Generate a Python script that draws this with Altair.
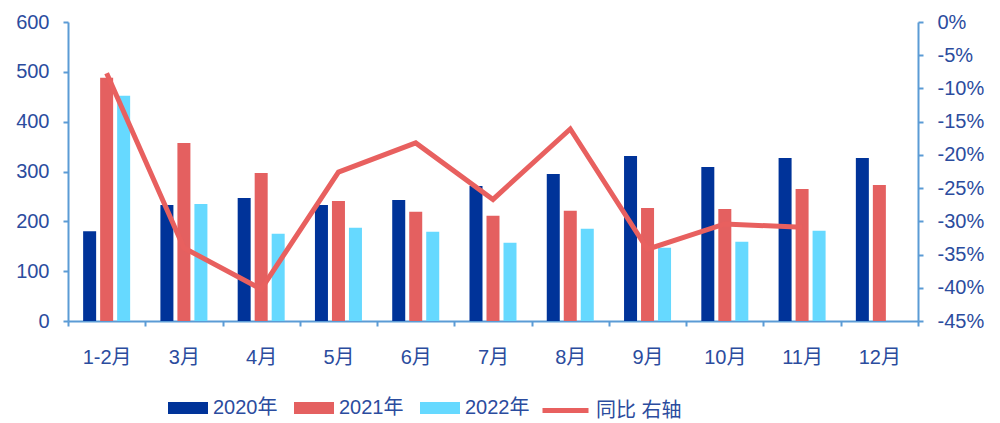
import altair as alt
import pandas as pd

months = ["1-2月", "3月", "4月", "5月", "6月", "7月", "8月", "9月", "10月", "11月", "12月"]
series = ["2020年", "2021年", "2022年"]
v2020 = [180, 233, 247, 233, 243, 271, 295, 331, 309, 327, 327]
v2021 = [488, 357, 297, 241, 219, 211, 221, 227, 225, 265, 273]
v2022 = [452, 235, 175, 187, 179, 157, 185, 147, 159, 181, None]
yoy = [-7.7, -34.0, -40.2, -22.6, -18.2, -26.7, -16.1, -34.2, -30.4, -30.9, None]
line_label = "同比 右轴"

bar_colors = ["#003399", "#E46060", "#66D9FF"]
line_color = "#E8605F"
text_color = "#2B4C9E"
axis_color = "#5B9BD5"
font = "Liberation Sans, 'Noto Sans CJK SC'"

rows = []
for i, m in enumerate(months):
    for s, vals in zip(series, [v2020, v2021, v2022]):
        if vals[i] is not None:
            rows.append({"month": m, "series": s, "value": vals[i]})
bars_df = pd.DataFrame(rows)
line_df = pd.DataFrame({"month": months, "yoy": yoy, "label": [line_label] * len(months)})
line_df = line_df.dropna()

x_enc = alt.X(
    "month:N", sort=months,
    scale=alt.Scale(paddingInner=0, paddingOuter=0),
    axis=alt.Axis(title=None, tickBand="extent", labelAngle=0, labelPadding=21,
                  labelFontSize=20),
)

bars = alt.Chart(bars_df).mark_bar().encode(
    x=x_enc,
    xOffset=alt.XOffset("series:N", sort=series,
                        scale=alt.Scale(paddingInner=0.235, paddingOuter=0.89)),
    y=alt.Y("value:Q", scale=alt.Scale(domain=[0, 600]),
            axis=alt.Axis(title=None, values=[0, 100, 200, 300, 400, 500, 600],
                          labelPadding=14)),
    color=alt.Color("series:N", sort=series,
                    scale=alt.Scale(domain=series, range=bar_colors),
                    legend=alt.Legend(title=None, orient="none", legendX=100, legendY=366,
                                      direction="horizontal",
                                      symbolType="M-1,-0.3H1V0.3H-1Z", symbolSize=1600,
                                      labelOffset=5, columnPadding=16,
                                      labelFontSize=20, labelColor=text_color,
                                      labelFont=font, symbolStrokeWidth=0)),
)

line = alt.Chart(line_df).mark_line(strokeWidth=5).encode(
    x=alt.X("month:N", sort=months),
    y=alt.Y("yoy:Q", scale=alt.Scale(domain=[-45, 0]),
            axis=alt.Axis(title=None, orient="right",
                          values=[0, -5, -10, -15, -20, -25, -30, -35, -40, -45],
                          labelExpr="datum.value + '%'", labelPadding=14)),
    stroke=alt.Stroke("label:N", scale=alt.Scale(domain=[line_label], range=[line_color]),
                      legend=alt.Legend(title=None, orient="none", legendX=472, legendY=363,
                                        symbolType="stroke", symbolSize=2116,
                                        symbolStrokeWidth=5, labelOffset=5,
                                        labelFontSize=20, labelColor=text_color,
                                        labelFont=font)),
)

chart = alt.layer(bars, line).resolve_scale(y="independent").properties(
    width=850, height=299,
    padding={"left": 60, "top": 14, "right": 74, "bottom": 100},
    autosize=alt.AutoSizeParams(type="none"),
).configure_view(stroke=None).configure_axis(
    labelFont=font, labelFontSize=20, labelColor=text_color,
    domainColor=axis_color, tickColor=axis_color, domainWidth=2, tickWidth=2,
    tickSize=5, grid=False,
)

chart.save("out.html", embed_options={"renderer": "svg", "actions": False})
